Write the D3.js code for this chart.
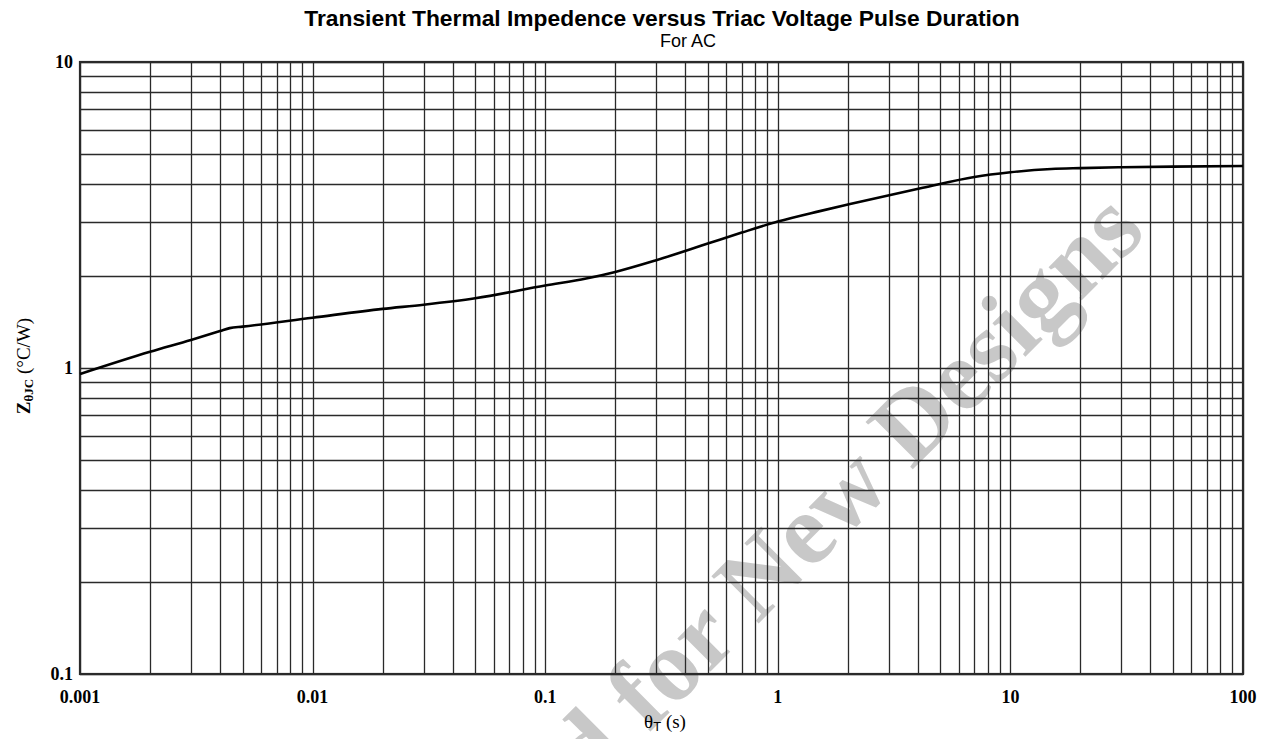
<!DOCTYPE html>
<html>
<head>
<meta charset="utf-8">
<script src="https://cdn.jsdelivr.net/npm/d3@7"></script>
<style>
    body { margin: 0; background: #fff; }
    svg { display: block; }
</style>
</head>
<body>
<svg id="chart" width="1268" height="739"></svg>
<script>
// pulse duration (s) vs transient thermal impedance (degC/W)
var durations = [0.001, 0.002, 0.003, 0.004, 0.0044, 0.005, 0.01, 0.02, 0.03, 0.05,
    0.1, 0.15, 0.2, 0.3, 0.5, 0.7, 1, 1.5, 2, 4.2, 7, 10, 15, 20, 30, 50, 100];
var impedances = [0.956, 1.13, 1.235, 1.32, 1.35, 1.365, 1.46, 1.56, 1.61, 1.69,
    1.86, 1.96, 2.06, 2.25, 2.55, 2.77, 3.01, 3.25, 3.42, 3.88, 4.21, 4.36, 4.47, 4.50, 4.53, 4.55, 4.57];

var xDomain = [0.001, 100];
var yDomain = [0.1, 10];
var xTickLabels = ['0.001', '0.01', '0.1', '1', '10', '100'];
var yTickLabels = ['0.1', '1', '10'];

var titleText = 'Transient Thermal Impedence versus Triac Voltage Pulse Duration';
var subtitleText = 'For AC';
var watermarkText = 'Not Recommended for New Designs';

(function () {
    var margin = {left: 80, top: 62, right: 25, bottom: 65};
    var svg = d3.select('#chart');
    var W = +svg.attr('width'), H = +svg.attr('height');
    var w = W - margin.left - margin.right,
        h = H - margin.top - margin.bottom;

    var serif = '"Liberation Serif", "Times New Roman", serif';
    var sans = '"Liberation Sans", Arial, sans-serif';

    var x = d3.scaleLog().domain(xDomain).range([0, w]);
    var y = d3.scaleLog().domain(yDomain).range([h, 0]);

    // watermark sits behind the grid
    svg.append('text')
        .attr('transform', 'translate(1148,234) rotate(-45)')
        .attr('text-anchor', 'end')
        .style('font-family', serif)
        .style('font-weight', 'bold')
        .style('font-size', '102px')
        .attr('fill', '#c8c8c8')
        .text(watermarkText);

    var g = svg.append('g')
        .attr('transform', 'translate(' + margin.left + ',' + margin.top + ')');

    // grid, 1..9 per decade
    g.append('g').selectAll('line').data(x.ticks())
        .enter().append('line')
            .attr('x1', d => Math.round(x(d)) + .5)
            .attr('x2', d => Math.round(x(d)) + .5)
            .attr('y1', 0)
            .attr('y2', h)
            .attr('stroke', '#2a2a2a')
            .attr('stroke-width', 1.3);

    g.append('g').selectAll('line').data(y.ticks())
        .enter().append('line')
            .attr('y1', d => Math.round(y(d)) + .5)
            .attr('y2', d => Math.round(y(d)) + .5)
            .attr('x1', 0)
            .attr('x2', w)
            .attr('stroke', '#2a2a2a')
            .attr('stroke-width', 1.3);

    g.append('rect')
        .attr('width', w)
        .attr('height', h)
        .attr('fill', 'none')
        .attr('stroke', '#2a2a2a')
        .attr('stroke-width', 2.2);

    // curve
    var pts = durations.map((d, i) => [d, impedances[i]]);
    var line = d3.line()
        .x(d => x(d[0]))
        .y(d => y(d[1]))
        .curve(d3.curveMonotoneX);

    g.append('path')
        .datum(pts)
        .attr('d', line)
        .attr('fill', 'none')
        .attr('stroke', '#000')
        .attr('stroke-width', 2.6);

    // tick labels
    g.append('g').selectAll('text').data(xTickLabels)
        .enter().append('text')
            .attr('x', d => x(+d))
            .attr('y', h + 29)
            .attr('text-anchor', 'middle')
            .style('font-family', serif)
            .style('font-weight', 'bold')
            .style('font-size', '18px')
            .text(d => d);

    g.append('g').selectAll('text').data(yTickLabels)
        .enter().append('text')
            .attr('x', -7)
            .attr('y', d => y(+d) + 6)
            .attr('text-anchor', 'end')
            .style('font-family', serif)
            .style('font-weight', 'bold')
            .style('font-size', '18px')
            .text(d => d);

    // axis titles
    var xt = svg.append('text')
        .attr('x', 665)
        .attr('y', 728)
        .attr('text-anchor', 'middle')
        .style('font-family', serif)
        .style('font-size', '19px');
    xt.append('tspan').text('\u03b8');
    xt.append('tspan').attr('dy', 3).style('font-family', sans).style('font-size', '13px').text('T');
    xt.append('tspan').attr('dy', -3).text(' (s)');

    var yt = svg.append('text')
        .attr('transform', 'translate(30,366) rotate(-90)')
        .attr('text-anchor', 'middle')
        .style('font-family', serif)
        .style('font-size', '19px');
    yt.append('tspan').style('font-weight', 'bold').text('Z');
    yt.append('tspan').attr('dy', 3).style('font-weight', 'bold').style('font-size', '13px').text('\u03b8JC');
    yt.append('tspan').attr('dy', -3).text(' (\u00b0C/W)');

    // titles
    svg.append('text')
        .attr('x', 662)
        .attr('y', 26)
        .attr('text-anchor', 'middle')
        .style('font-family', sans)
        .style('font-weight', 'bold')
        .style('font-size', '22.8px')
        .text(titleText);

    svg.append('text')
        .attr('x', 688)
        .attr('y', 47)
        .attr('text-anchor', 'middle')
        .style('font-family', sans)
        .style('font-size', '18px')
        .text(subtitleText);
}());
</script>
</body>
</html>
